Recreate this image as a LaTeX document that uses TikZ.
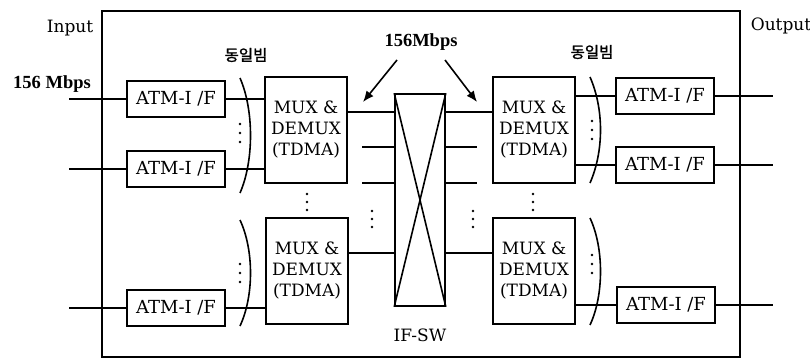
\documentclass[tikz,border=0pt]{standalone}
\usepackage{fontspec}
\setmainfont{DejaVu Serif}
\newfontfamily\kr[AutoFakeBold=1.5]{Noto Sans CJK KR}
\newfontfamily\tb{Liberation Serif}
\usetikzlibrary{arrows.meta}
\tikzset{
  atm/.style={draw, line width=1.6pt, minimum width=98pt, minimum height=36pt, inner sep=0pt, font=\fontsize{18}{21}\selectfont},
  mux/.style={draw, line width=1.6pt, minimum width=82pt, minimum height=106pt, inner sep=0pt, align=center, font=\fontsize{17}{21}\selectfont},
  swbox/.style={draw, line width=1.6pt, minimum width=50pt, minimum height=212pt, inner sep=0pt},
  conn/.style={line width=1.6pt},
  paren/.style={line width=1.6pt},
  lbl/.style={font=\fontsize{17}{21}\selectfont, inner sep=0pt},
  blbl/.style={font=\tb\bfseries\fontsize{18.5}{21}\selectfont, inner sep=0pt},
  krlbl/.style={font=\kr\bfseries\fontsize{15.5}{18}\selectfont, inner sep=0pt},
  arr/.style={line width=1.6pt, -{Latex[length=11pt,width=9pt]}}
}
\begin{document}
\begin{tikzpicture}[x=1pt,y=-1pt]
\useasboundingbox (0,0) rectangle (810,358);
% frame
\draw[line width=1.3pt] (102,11) rectangle (740,357);
% labels
\node[lbl] (input) at (70,28) {Input};
\node[lbl] (output) at (781,26) {Output};
\node[blbl] (mbpsin) at (52,84) {156 Mbps};
\node[blbl] (mbps) at (421,42) {156Mbps};
\node[krlbl] (beamL) at (246,55) {동일빔};
\node[krlbl] (beamR) at (592,52) {동일빔};
\node[lbl] (ifsw) at (420,335) {IF-SW};
% ATM boxes
\node[atm] (atmL1) at (176,99) {ATM-I /F};
\node[atm] (atmL2) at (176,169) {ATM-I /F};
\node[atm] (atmL3) at (176,308) {ATM-I /F};
\node[atm] (atmR1) at (665,96) {ATM-I /F};
\node[atm] (atmR2) at (665,165) {ATM-I /F};
\node[atm] (atmR3) at (666,305) {ATM-I /F};
% MUX boxes
\node[mux] (muxL1) at (306,130) {MUX \&\\DEMUX\\(TDMA)};
\node[mux] (muxL2) at (307,271) {MUX \&\\DEMUX\\(TDMA)};
\node[mux] (muxR1) at (534,130) {MUX \&\\DEMUX\\(TDMA)};
\node[mux] (muxR2) at (534,271) {MUX \&\\DEMUX\\(TDMA)};
% switch
\node[swbox] (sw) at (420,200) {};
\draw[conn] (sw.north west) -- (sw.south east);
\draw[conn] (sw.north east) -- (sw.south west);
% input / output lines
\coordinate (in1) at (69,99);
\coordinate (in2) at (69,169);
\coordinate (in3) at (69,308);
\coordinate (out1) at (773,96);
\coordinate (out2) at (773,165);
\coordinate (out3) at (773,305);
\draw[conn] (in1) -- (atmL1.west);
\draw[conn] (in2) -- (atmL2.west);
\draw[conn] (in3) -- (atmL3.west);
\draw[conn] (atmR1.east) -- (out1);
\draw[conn] (atmR2.east) -- (out2);
\draw[conn] (atmR3.east) -- (out3);
% ATM to MUX
\draw[conn] (atmL1.east) -- (atmL1.east -| muxL1.west);
\draw[conn] (atmL2.east) -- (atmL2.east -| muxL1.west);
\draw[conn] (atmL3.east) -- (atmL3.east -| muxL2.west);
\draw[conn] (atmR1.west) -- (atmR1.west -| muxR1.east);
\draw[conn] (atmR2.west) -- (atmR2.west -| muxR1.east);
\draw[conn] (atmR3.west) -- (atmR3.west -| muxR2.east);
% MUX to switch
\coordinate (t1) at (347,112);
\coordinate (t2) at (348,253);
\draw[conn] (t1 -| muxL1.east) -- (t1 -| sw.west);
\draw[conn] (t1 -| sw.east) -- (t1 -| muxR1.west);
\draw[conn] (t2 -| muxL2.east) -- (t2 -| sw.west);
\draw[conn] (t2 -| sw.east) -- (t2 -| muxR2.west);
% short lines
\coordinate (sl1) at (362,147);
\coordinate (sl2) at (362,183);
\coordinate (sr1) at (477,147);
\coordinate (sr2) at (477,183);
\draw[conn] (sl1) -- (sl1 -| sw.west);
\draw[conn] (sl2) -- (sl2 -| sw.west);
\draw[conn] (sw.east |- sr1) -- (sr1);
\draw[conn] (sw.east |- sr2) -- (sr2);
% arrows
\coordinate (a1s) at (397,60);
\coordinate (a1e) at (363,102);
\coordinate (a2s) at (445,60);
\coordinate (a2e) at (477,102);
\draw[arr] (a1s) -- (a1e);
\draw[arr] (a2s) -- (a2e);
% parentheses
\draw[paren] (240,78) .. controls (254,110) and (254,161) .. (240,193);
\draw[paren] (240,220) .. controls (254,250) and (254,296) .. (240,326);
\draw[paren] (590,77) .. controls (604,109) and (604,151) .. (590,183);
\draw[paren] (590,218) .. controls (604,248) and (604,295) .. (590,325);
% dots
\foreach \x/\y in {240/124,240/133,240/142,240/264,240/273,240/282,
                   592/121,592/130,592/139,592/255,592/264,592/273,
                   307/194,307/202,307/210,533/194,533/202,533/210,
                   372/211,372/219,372/227,473/211,473/219,473/227}
  \fill (\x,\y) circle (1.4pt);
\end{tikzpicture}
\end{document}
